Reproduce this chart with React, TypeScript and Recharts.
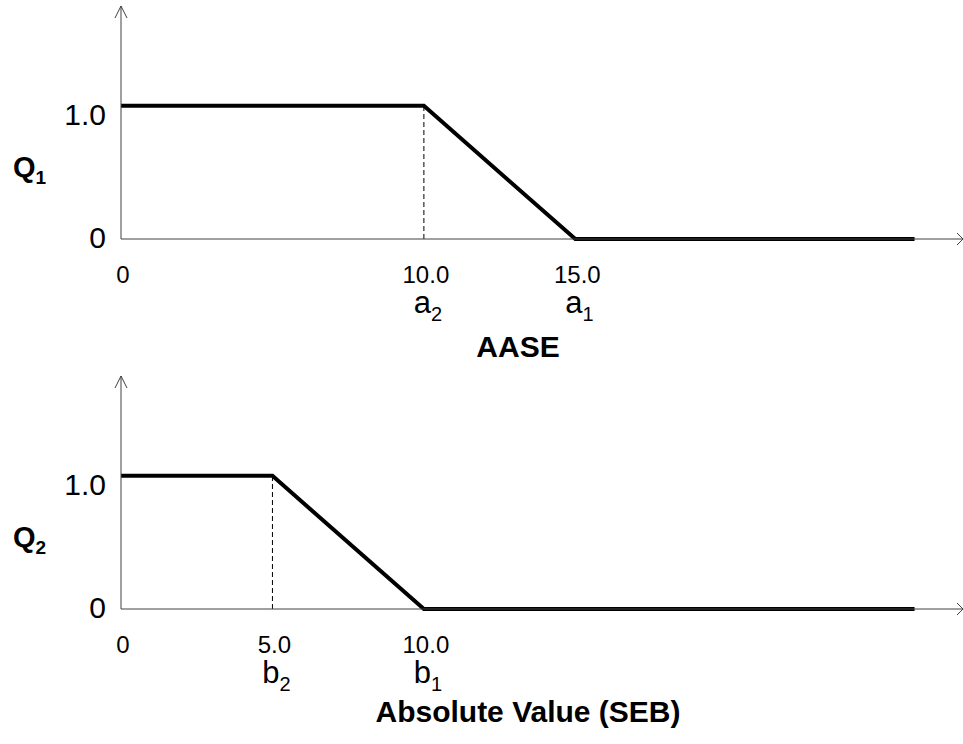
import { LineChart, Line, XAxis, YAxis, ReferenceLine, ReferenceDot } from "recharts";

// top panel: Q1 vs AASE
const aaseX = [0, 10, 15, 26.2];
const q1Values = [1, 1, 0, 0];
const aaseTicks = [0, 10, 15];
const aaseTickText = ["0", "10.0", "15.0"];
const aaseSymbols = ["", "a", "a"];
const aaseSubs = ["", "2", "1"];

// bottom panel: Q2 vs |SEB|
const sebX = [0, 5, 10, 26.2];
const q2Values = [1, 1, 0, 0];
const sebTicks = [0, 5, 10];
const sebTickText = ["0", "5.0", "10.0"];
const sebSymbols = ["", "b", "b"];
const sebSubs = ["", "2", "1"];

const yTicks = [0, 1];
const yTickText = ["0", "1.0"];

const X_MAX = 27.8;
const Y_MAX = 1.75;
const FONT = "'Liberation Sans', Arial, sans-serif";
const AXIS = "#404040";

const makeXTick = (ticks: number[], text: string[], syms: string[], subs: string[]) => (props: any) => {
  const { x, y, payload } = props;
  const i = ticks.indexOf(payload.value);
  return (
    <g>
      <text x={x + 2} y={y + 44} textAnchor="middle" fontSize={24} fontFamily={FONT} fill="#000">
        {text[i]}
      </text>
      {syms[i] && (
        <text x={x + 4} y={y + 74} textAnchor="middle" fontSize={31} fontFamily={FONT} fill="#000">
          <tspan>{syms[i]}</tspan>
          <tspan dy={8} fontSize={20}>{subs[i]}</tspan>
        </text>
      )}
    </g>
  );
};

const YTick = (props: any) => {
  const { x, y, payload } = props;
  const i = yTicks.indexOf(payload.value);
  return (
    <text x={x - 15} y={y + (payload.value === 0 ? 9 : 19)} textAnchor="end" fontSize={30} fontFamily={FONT} fill="#000">
      {yTickText[i]}
    </text>
  );
};

const QLabel = (sub: string) => (props: any) => {
  const { viewBox } = props;
  const base = viewBox.y + viewBox.height - 62;
  return (
    <text x={13} y={base} fontSize={29} fontWeight="bold" fontFamily={FONT} fill="#000">
      <tspan>Q</tspan>
      <tspan dy={7} fontSize={19}>{sub}</tspan>
    </text>
  );
};

const TitleLabel = (title: string, cx: number, dy: number) => (props: any) => {
  const { viewBox } = props;
  return (
    <text x={cx} y={viewBox.y + dy} textAnchor="middle" fontSize={30} fontWeight="bold" fontFamily={FONT} fill="#000">
      {title}
    </text>
  );
};

const UpArrow = (props: any) => {
  const { cx, cy } = props;
  return <path d={`M${cx - 6},${cy + 12} L${cx},${cy} L${cx + 6},${cy + 12}`} stroke={AXIS} strokeWidth={1} fill="none" />;
};

const RightArrow = (props: any) => {
  const { cx, cy } = props;
  return <path d={`M${cx - 6},${cy - 6} L${cx},${cy} L${cx - 6},${cy + 6}`} stroke={AXIS} strokeWidth={1} fill="none" />;
};

const Panel = ({
  xs, ys, ticks, tickText, syms, subs, knee, qSub, title, titleX, titleDy, height
}: {
  xs: number[]; ys: number[]; ticks: number[]; tickText: string[]; syms: string[]; subs: string[];
  knee: number; qSub: string; title: string; titleX: number; titleDy: number; height: number;
}) => {
  const data = xs.map((x, i) => ({ x, q: ys[i] }));
  return (
    <LineChart width={963} height={height} data={data} margin={{ top: 6, right: 0, bottom: 0, left: 0 }}>
      <XAxis
        dataKey="x"
        type="number"
        domain={[0, X_MAX]}
        ticks={ticks}
        tickLine={false}
        tickSize={0}
        tickMargin={0}
        height={height - 239}
        axisLine={{ stroke: AXIS, strokeWidth: 1 }}
        tick={makeXTick(ticks, tickText, syms, subs)}
        label={{ content: TitleLabel(title, titleX, titleDy) }}
        interval={0}
      />
      <YAxis
        type="number"
        domain={[0, Y_MAX]}
        ticks={yTicks}
        width={121}
        tickLine={false}
        tickSize={0}
        tickMargin={0}
        axisLine={{ stroke: AXIS, strokeWidth: 1 }}
        tick={YTick}
        label={{ content: QLabel(qSub) }}
        interval={0}
      />
      <ReferenceLine
        segment={[{ x: knee, y: 0 }, { x: knee, y: 1 }]}
        stroke="#000"
        strokeWidth={1}
        strokeDasharray="5 3"
      />
      <ReferenceDot x={0} y={Y_MAX} r={0} shape={UpArrow} />
      <ReferenceDot x={X_MAX} y={0} r={0} shape={RightArrow} />
      <Line
        type="linear"
        dataKey="q"
        stroke="#000"
        strokeWidth={4}
        dot={false}
        activeDot={false}
        isAnimationActive={false}
      />
    </LineChart>
  );
};

export default function App() {
  return (
    <div style={{ position: "absolute", left: 0, top: 0, width: 963, height: 744, background: "#fff" }}>
      <Panel
        xs={aaseX} ys={q1Values} ticks={aaseTicks} tickText={aaseTickText} syms={aaseSymbols} subs={aaseSubs}
        knee={10} qSub="1" title="AASE" titleX={518} titleDy={118} height={370}
      />
      <Panel
        xs={sebX} ys={q2Values} ticks={sebTicks} tickText={sebTickText} syms={sebSymbols} subs={sebSubs}
        knee={5} qSub="2" title="Absolute Value (SEB)" titleX={528} titleDy={113} height={374}
      />
    </div>
  );
}
